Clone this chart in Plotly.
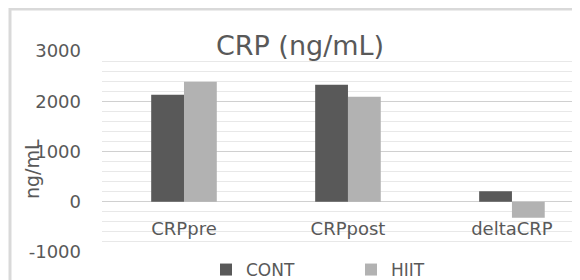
import plotly.graph_objects as go

categories = ["CRPpre", "CRPpost", "deltaCRP"]
cont_values = [2130, 2330, 210]
hiit_values = [2390, 2090, -320]
series_names = ["CONT", "HIIT"]
y_ticks = [-1000, 0, 1000, 2000, 3000]
y_tick_labels = ["-1000", "0", "1000", "2000", "3000"]

FONT = "DejaVu Sans"
TXT = "#595959"

# the page body has an 8px margin, so the figure is drawn 8px in from the window edge
OFF = 8
W, H = 580 - OFF, 280 - OFF
L, T = 102 - OFF, 51 - OFF
B = H - (252 - OFF)
PW, PH = W - L, H - T - B


def px(xw):
    return (xw - OFF - L) / PW


def py(yw):
    return ((252 - OFF) - (yw - OFF)) / PH


fig = go.Figure()
fig.add_trace(go.Bar(x=categories, y=cont_values, name=series_names[0],
                     marker=dict(color="#595959", line=dict(width=0))))
fig.add_trace(go.Bar(x=categories, y=hiit_values, name=series_names[1],
                     marker=dict(color="#b2b2b2", line=dict(width=0))))

fig.update_layout(
    width=W, height=H,
    margin=dict(l=L, r=0, t=T, b=B, autoexpand=False),
    paper_bgcolor="white", plot_bgcolor="white",
    barmode="group", bargap=0.6, bargroupgap=0,
    font=dict(family=FONT, color=TXT, size=18),
    title=dict(text="CRP (ng/mL)", x=px(300), xanchor="center", xref="paper",
               y=(H - (46 - OFF)) / H, yanchor="middle", yref="container",
               font=dict(family=FONT, size=27, color=TXT)),
    showlegend=True,
    legend=dict(orientation="h", x=px(206), xanchor="left", xref="paper",
                y=py(270), yanchor="middle",
                font=dict(family=FONT, size=17, color=TXT),
                entrywidth=100, entrywidthmode="pixels",
                itemwidth=30, bgcolor="rgba(0,0,0,0)"),
    xaxis=dict(type="category", range=[-0.5, 2.415], showgrid=False,
               showline=False, zeroline=False, ticks="", automargin=False,
               anchor="free", position=0.25, ticklabelstandoff=14,
               tickfont=dict(family=FONT, size=18, color=TXT)),
    yaxis=dict(range=[-1000, 3000], tickvals=y_ticks, ticktext=y_tick_labels,
               showgrid=True, automargin=False,
               gridcolor="#d0d0d0", gridwidth=1, zeroline=True,
               zerolinecolor="#d0d0d0", zerolinewidth=1, showline=False,
               ticks="", ticklabelstandoff=20,
               tickfont=dict(family=FONT, size=18, color=TXT),
               minor=dict(dtick=200, showgrid=True, gridcolor="#e8e8e8", gridwidth=1)),
)

# y-axis title placed where the reference shows it
fig.add_annotation(text="ng/mL", textangle=-90, xref="paper", yref="paper",
                   x=px(32), y=py(169), xanchor="center", yanchor="middle",
                   showarrow=False, font=dict(family=FONT, size=19, color=TXT))

# chart outer border (top and left edges visible)
fig.add_shape(type="line", xref="paper", yref="paper",
              x0=px(10), x1=px(600), y0=py(9), y1=py(9),
              line=dict(color="#d9d9d9", width=3), layer="below")
fig.add_shape(type="line", xref="paper", yref="paper",
              x0=px(10), x1=px(10), y0=py(8), y1=py(300),
              line=dict(color="#d9d9d9", width=3), layer="below")

fig.write_html("out.html")
